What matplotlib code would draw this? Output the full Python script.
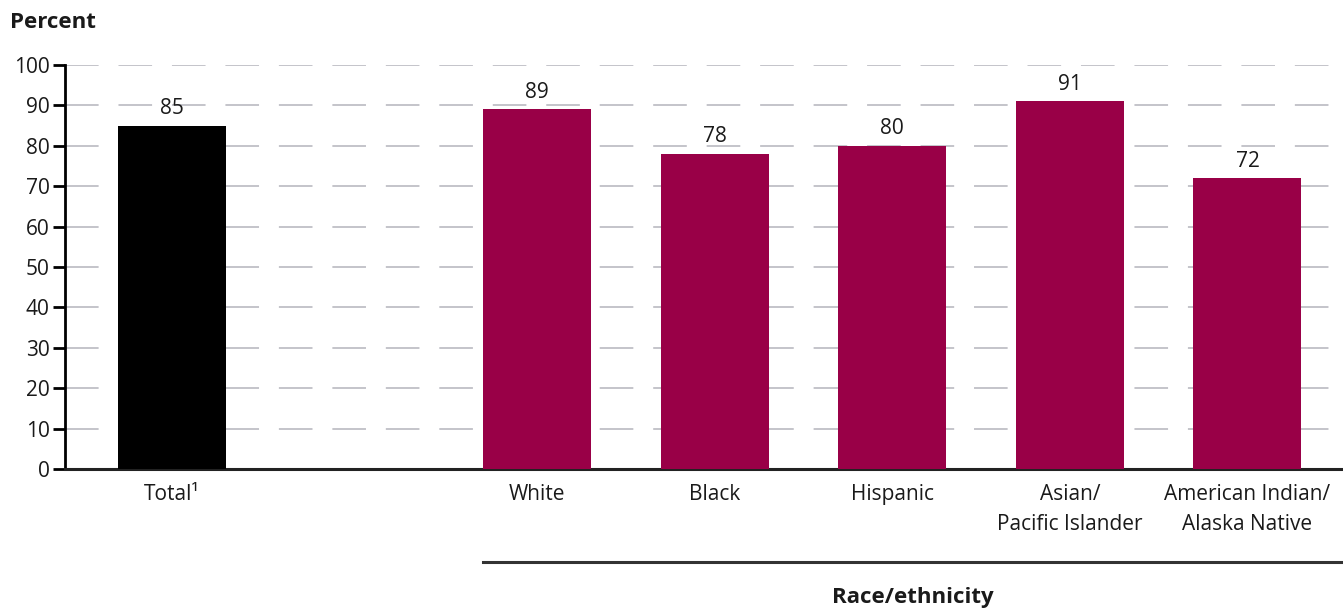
import matplotlib.pyplot as plt
import numpy as np

categories = ["Total¹", "White", "Black", "Hispanic", "Asian/\nPacific Islander",
              "American Indian/\nAlaska Native"]
values = [85, 89, 78, 80, 91, 72]
bar_colors = ["#000000", "#990047", "#990047", "#990047", "#990047", "#990047"]
yticks = [0, 10, 20, 30, 40, 50, 60, 70, 80, 90, 100]

plt.rcParams['font.family'] = ['Open Sans', 'DejaVu Sans']

fig = plt.figure(figsize=(13.43, 6.10), dpi=100)
ax = fig.add_axes([0.0484, 0.2311, 0.9516, 0.6623])

# total sits on its own, race groups after a gap
x = np.array([0] + [2.055 + i for i in range(5)])
ax.bar(x, values, width=0.608, color=bar_colors, zorder=3)

for xi, v in zip(x, values):
    ax.text(xi, v + 1.6, str(v), ha='center', va='bottom', fontsize=15, color='#1a1a1a')

ax.set_xlim(-0.602, 6.593)
ax.set_ylim(0, 100)
ax.set_yticks(yticks)
ax.set_yticklabels([str(t) for t in yticks], fontsize=15, color='#1a1a1a')
ax.set_xticks(x)
ax.set_xticklabels(categories, fontsize=15, color='#1a1a1a', linespacing=1.55)
ax.tick_params(axis='x', length=0, pad=11)
ax.tick_params(axis='y', length=9, width=2, direction='out', pad=2)

for t in yticks[1:]:
    ax.axhline(t, color='#b4b4bc', lw=1.1, ls=(0, (22, 13)), zorder=1)

for s in ['top', 'right']:
    ax.spines[s].set_visible(False)
ax.spines['left'].set_linewidth(2)
ax.spines['bottom'].set_linewidth(2.2)
ax.spines['bottom'].set_color('#222222')

fig.text(10 / 1343, 1 - 22 / 610, "Percent", fontsize=16, fontweight='bold',
         ha='left', va='center', color='#1a1a1a')

# bracket under race/ethnicity group
fig.add_artist(plt.Line2D([483 / 1343, 1.0], [1 - 562 / 610] * 2, color='#333333', lw=2.2))
fig.text(913 / 1343, 1 - 598 / 610, "Race/ethnicity", fontsize=16, fontweight='bold',
         ha='center', va='center', color='#1a1a1a')

fig.savefig("out.png", dpi=100)
